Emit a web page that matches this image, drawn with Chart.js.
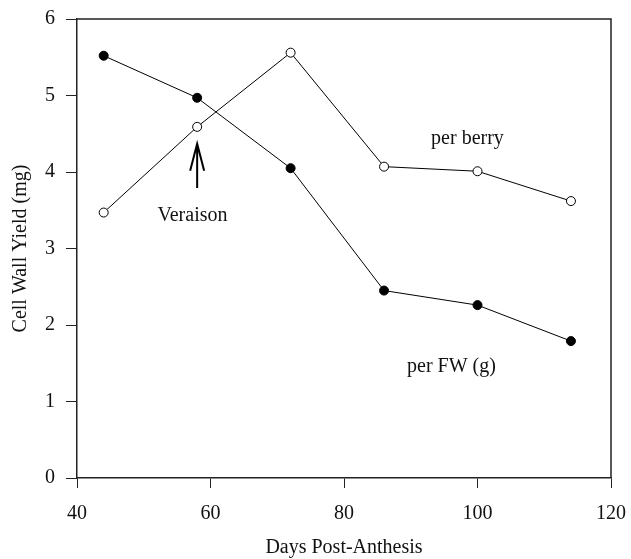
<!DOCTYPE html>
<html>
<head>
<meta charset="utf-8">
<script src="https://cdn.jsdelivr.net/npm/chart.js@4"></script>
<style>
  html, body { margin: 0; padding: 0; background: #fff; }
  canvas { display: block; }
</style>
</head>
<body>
<canvas id="canvas" width="631" height="559"></canvas>
<script>
const days = [44, 58, 72, 86, 100, 114];
const perFW = [5.52, 4.97, 4.05, 2.45, 2.26, 1.79];
const perBerry = [3.47, 4.59, 5.56, 4.07, 4.01, 3.62];
const xTicks = [40, 60, 80, 100, 120];
const yTicks = [0, 1, 2, 3, 4, 5, 6];

const serif = 'Liberation Serif, Times New Roman, serif';

// labels and the veraison arrow, placed in data units
const notes = [
  { text: 'per berry', x: 98.5, y: 4.44 },
  { text: 'Veraison', x: 57.3, y: 3.43 },
  { text: 'per FW (g)', x: 96.1, y: 1.46 },
];
const arrow = { x: 58, from: 3.79, to: 4.37 };

const frame = {
  id: 'frame',
  afterDatasetsDraw(chart) {
    const { ctx, chartArea: a, scales: { x, y } } = chart;
    ctx.save();
    ctx.strokeStyle = '#222';
    ctx.lineWidth = 1.5;
    ctx.beginPath();
    ctx.moveTo(a.left, a.top);
    ctx.lineTo(a.right, a.top);
    ctx.lineTo(a.right, a.bottom);
    ctx.stroke();

    ctx.fillStyle = '#111';
    ctx.font = '20px ' + serif;
    ctx.textAlign = 'center';
    ctx.textBaseline = 'middle';
    notes.forEach((n) => ctx.fillText(n.text, x.getPixelForValue(n.x), y.getPixelForValue(n.y)));

    const ax = x.getPixelForValue(arrow.x);
    const y0 = y.getPixelForValue(arrow.from);
    const y1 = y.getPixelForValue(arrow.to);
    ctx.strokeStyle = '#000';
    ctx.lineWidth = 2;
    ctx.beginPath();
    ctx.moveTo(ax, y0);
    ctx.lineTo(ax, y1);
    ctx.moveTo(ax - 7, y1 + 27);
    ctx.lineTo(ax, y1);
    ctx.lineTo(ax + 7, y1 + 27);
    ctx.stroke();
    ctx.restore();
  },
};

new Chart(document.getElementById('canvas'), {
  type: 'line',
  data: {
    datasets: [
      {
        label: 'per FW (g)',
        data: days.map((d, i) => ({ x: d, y: perFW[i] })),
        borderColor: '#000',
        borderWidth: 1,
        pointRadius: 4.5,
        pointBackgroundColor: '#000',
        pointBorderColor: '#000',
        pointBorderWidth: 1,
      },
      {
        label: 'per berry',
        data: days.map((d, i) => ({ x: d, y: perBerry[i] })),
        borderColor: '#000',
        borderWidth: 1,
        pointRadius: 4.5,
        pointBackgroundColor: '#fff',
        pointBorderColor: '#000',
        pointBorderWidth: 1,
      },
    ],
  },
  options: {
    responsive: false,
    animation: false,
    layout: { padding: { left: 0, top: 19, right: 20, bottom: 0 } },
    plugins: {
      legend: { display: false },
      tooltip: { enabled: false },
    },
    scales: {
      x: {
        type: 'linear',
        min: 40,
        max: 120,
        afterBuildTicks: (s) => { s.ticks = xTicks.map((v) => ({ value: v })); },
        afterFit: (s) => { s.height = 81; s.paddingLeft = 0; s.paddingRight = 0; },
        border: { display: true, color: '#222', width: 1.5 },
        grid: { drawOnChartArea: false, drawTicks: true, tickLength: 10, color: '#222', lineWidth: 1 },
        ticks: { color: '#111', padding: 14, font: { family: serif, size: 20 } },
        title: {
          display: true,
          text: 'Days Post-Anthesis',
          color: '#111',
          font: { family: serif, size: 20, lineHeight: 1.1 },
          padding: { top: 0, bottom: 0 },
        },
      },
      y: {
        min: 0,
        max: 6,
        afterBuildTicks: (s) => { s.ticks = yTicks.map((v) => ({ value: v })); },
        afterFit: (s) => { s.width = 77; s.paddingTop = 0; s.paddingBottom = 0; },
        border: { display: true, color: '#222', width: 1.5 },
        grid: { drawOnChartArea: false, drawTicks: true, tickLength: 11, color: '#222', lineWidth: 1 },
        ticks: { color: '#111', padding: 11, font: { family: serif, size: 20 } },
        title: {
          display: true,
          text: 'Cell Wall Yield (mg)',
          color: '#111',
          font: { family: serif, size: 20, lineHeight: 1.2 },
          padding: { top: 9, bottom: 0 },
        },
      },
    },
  },
  plugins: [frame],
});
</script>
</body>
</html>
